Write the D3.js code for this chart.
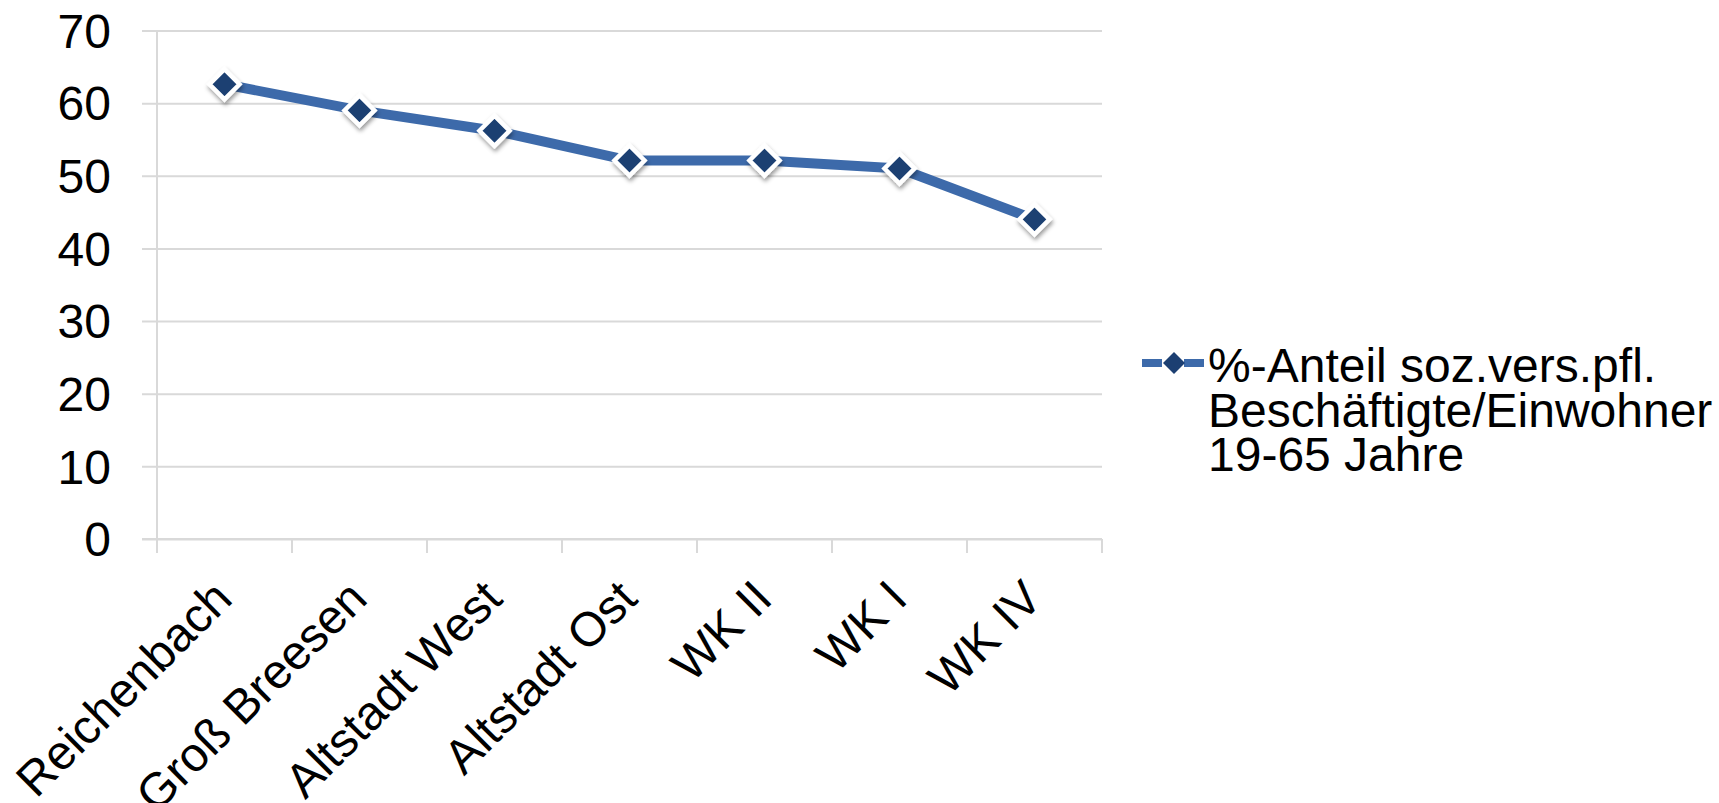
<!DOCTYPE html>
<html>
<head>
<meta charset="utf-8">
<script src="https://cdn.jsdelivr.net/npm/d3@7"></script>
<style>
  html, body { margin: 0; padding: 0; background: #ffffff; }
  svg { display: block; }
  text { font-family: "Liberation Sans", Arial, sans-serif; fill: #000; }
</style>
</head>
<body>
<svg id="chart" width="1719" height="803"></svg>
<script>
const categories = ["Reichenbach", "Groß Breesen", "Altstadt West", "Altstadt Ost", "WK II", "WK I", "WK IV"];
const values = [62.6, 59.0, 56.2, 52.1, 52.1, 51.0, 44.0];
const yTicks = [0, 10, 20, 30, 40, 50, 60, 70];
const seriesName = ["%-Anteil soz.vers.pfl.", "Beschäftigte/Einwohner", "19-65 Jahre"];

(function () {
const svg = d3.select("#chart");
const pLeft = 157, pRight = 1102, pTop = 30.5, pBottom = 539;
const gridColor = "#d9d9d9";
const lineColor = "#3d6aaa";
const markerColor = "#1c3f72";
const fs = 48;

const defs = svg.append("defs");
const f = defs.append("filter").attr("id", "shadow").attr("x", "-50%").attr("y", "-50%").attr("width", "200%").attr("height", "200%");
f.append("feDropShadow").attr("dx", 1).attr("dy", 3).attr("stdDeviation", 2).attr("flood-color", "#000").attr("flood-opacity", 0.4);

const x = d3.scaleBand().domain(categories).range([pLeft, pRight]).padding(0);
const y = d3.scaleLinear().domain([0, 70]).range([pBottom, pTop]);

// gridlines + y ticks
const yAxis = d3.axisLeft(y).tickValues(yTicks).tickSize(-(pRight - pLeft)).tickPadding(30).tickFormat(d3.format("d"));
const gy = svg.append("g").attr("transform", `translate(${pLeft},0)`).call(yAxis);
gy.select(".domain").remove();
gy.selectAll(".tick line").attr("x1", -15).attr("stroke", gridColor).attr("stroke-width", 2);
gy.selectAll(".tick text").attr("font-size", fs).attr("x", -46).attr("dy", "0.35em")
  .style("font-family", "'Liberation Sans', Arial, sans-serif").attr("fill", "#111");

// y axis vertical line
svg.append("line").attr("x1", pLeft).attr("x2", pLeft).attr("y1", pTop).attr("y2", pBottom)
  .attr("stroke", gridColor).attr("stroke-width", 2);

// x axis line & ticks at category boundaries
svg.append("line").attr("x1", pLeft - 15).attr("x2", pRight).attr("y1", pBottom).attr("y2", pBottom)
  .attr("stroke", gridColor).attr("stroke-width", 2);
const bounds = categories.map(c => x(c)).concat([x(categories[categories.length - 1]) + x.bandwidth()]);
svg.append("g").selectAll("line").data(bounds).join("line")
  .attr("x1", d => d).attr("x2", d => d).attr("y1", pBottom).attr("y2", pBottom + 14)
  .attr("stroke", gridColor).attr("stroke-width", 2);

// x labels
svg.append("g").selectAll("text").data(categories).join("text")
  .attr("transform", d => `translate(${x(d) + x.bandwidth() / 2 + 10},${pBottom + 62}) rotate(-45)`)
  .attr("text-anchor", "end")
  .attr("font-size", fs)
  .attr("fill", "#111")
  .text(d => d);

// line
const line = d3.line().x((d, i) => x(categories[i]) + x.bandwidth() / 2).y(d => y(d));
svg.append("path").datum(values).attr("d", line).attr("fill", "none")
  .attr("stroke", lineColor).attr("stroke-width", 10).attr("stroke-linejoin", "round");

// markers
const diamond = s => `M0,${-s} L${s},0 L0,${s} L${-s},0 Z`;
svg.append("g").selectAll("path").data(values).join("path")
  .attr("transform", (d, i) => `translate(${x(categories[i]) + x.bandwidth() / 2},${y(d)})`)
  .attr("d", diamond(15))
  .attr("fill", markerColor).attr("stroke", "#fff").attr("stroke-width", 4.5)
  .attr("stroke-linejoin", "miter")
  .attr("filter", "url(#shadow)");

// legend
const lg = svg.append("g");
lg.append("line").attr("x1", 1142).attr("x2", 1204).attr("y1", 363).attr("y2", 363)
  .attr("stroke", lineColor).attr("stroke-width", 8).attr("stroke-dasharray", "20 22 20");
lg.append("path").attr("transform", "translate(1174,363)").attr("d", diamond(11)).attr("fill", markerColor);
lg.selectAll("text").data(seriesName).join("text")
  .attr("x", 1208).attr("y", (d, i) => 382 + i * 44.5)
  .attr("font-size", fs).attr("fill", "#111")
  .text(d => d);
})();
</script>
</body>
</html>
